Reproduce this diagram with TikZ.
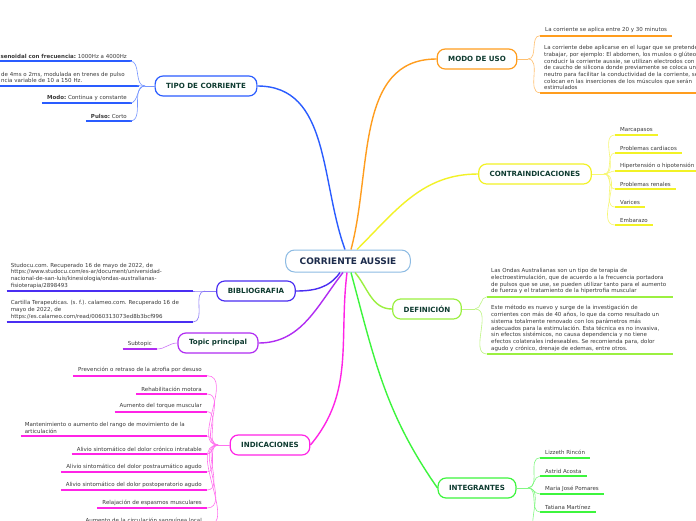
\documentclass[tikz,border=0pt]{standalone}
\usepackage{fontspec}
\setmainfont{DejaVu Sans}
\usepackage{xcolor}
\definecolor{RootLine}{HTML}{8DBBE3}
\definecolor{RootText}{HTML}{1C2B4B}
\definecolor{TopicText}{HTML}{0E3B30}
\definecolor{LeafText}{HTML}{3A3A3A}
\definecolor{TipoBlue}{HTML}{2A5CFF}
\definecolor{ModoOrange}{HTML}{FF9D1E}
\definecolor{ContraYellow}{HTML}{F2F226}
\definecolor{BiblioViolet}{HTML}{4A2EF2}
\definecolor{TopicPurple}{HTML}{B02CF2}
\definecolor{IndicPink}{HTML}{FF24E6}
\definecolor{DefinLime}{HTML}{9BF040}
\definecolor{IntegGreen}{HTML}{3DF53D}
\usetikzlibrary{positioning}
\frenchspacing
\tikzset{
  maproot/.style={
    draw=RootLine,
    fill=white,
    rounded corners=9pt,
    line width=1pt,
    minimum height=22pt,
    inner xsep=14pt,
    font=\fontsize{9}{10}\selectfont\bfseries,
    text=RootText
  },
  maptopic/.style={
    draw=#1,
    fill=white,
    rounded corners=8pt,
    line width=1.2pt,
    minimum height=20pt,
    inner xsep=11pt,
    font=\fontsize{7.1}{8}\selectfont\bfseries,
    text=TopicText
  },
  mapleaf/.style={
    font=\fontsize{5.5}{6.7}\selectfont,
    text=LeafText,
    inner xsep=5pt,
    inner ysep=2.5pt
  },
  mapnote/.style={
    mapleaf,
    inner xsep=4pt,
    text width=#1,
    align=left
  },
  mapbranch/.style={draw=#1, line width=1.4pt},
  maptwig/.style={draw=#1!65, line width=0.6pt},
  mapbar/.style={draw=#1, line width=1.6pt}
}

\begin{document}
\begin{tikzpicture}[x=1pt,y=-1pt]
  \clip (0,0) rectangle (696,520);
  \fill[white] (0,0) rectangle (696,520);

  % main topic and branches
  \node[maproot] (root) at (348,261) {CORRIENTE AUSSIE};
  \node[maptopic=TipoBlue] (tipo) at (206,86) {TIPO DE CORRIENTE};
  \node[maptopic=ModoOrange] (modo) at (477,59) {MODO DE USO};
  \node[maptopic=ContraYellow] (contra) at (535,174) {CONTRAINDICACIONES};
  \node[maptopic=BiblioViolet] (biblio) at (256,291) {BIBLIOGRAFIA};
  \node[maptopic=TopicPurple] (topic) at (218,343) {Topic principal};
  \node[maptopic=DefinLime] (defin) at (427,309) {DEFINICIÓN};
  \node[maptopic=IndicPink] (indic) at (270,445) {INDICACIONES};
  \node[maptopic=IntegGreen] (integ) at (477,488) {INTEGRANTES};

  \draw[mapbranch=TipoBlue] ([xshift=-3pt]root.north) to[out=110,in=0] (tipo.east);
  \draw[mapbranch=ModoOrange] ([xshift=3pt]root.north) to[out=75,in=180] (modo.west);
  \draw[mapbranch=ContraYellow] ([xshift=9pt]root.north) to[out=45,in=180] (contra.west);
  \draw[mapbranch=BiblioViolet] ([xshift=-8pt]root.south) to[out=-125,in=0] (biblio.east);
  \draw[mapbranch=TopicPurple] ([xshift=-5pt]root.south) to[out=-128,in=0] (topic.east);
  \draw[mapbranch=IndicPink] ([xshift=-1pt]root.south) to[out=-97,in=50] (indic.east);
  \draw[mapbranch=IntegGreen] ([xshift=3pt]root.south) to[out=-75,in=125] (integ.west);
  \draw[mapbranch=DefinLime] ([xshift=7pt]root.south) to[out=-50,in=180] (defin.west);

  % tipo de corriente
  \node[mapleaf, anchor=south east] (tipoA) at (132,61) {\textbf{senoidal con frecuencia:} 1000Hz a 4000Hz};
  \node[mapnote=134pt, anchor=south west] (tipoB) at (-3,85.7) {de 4ms o 2ms, modulada en trenes de pulso\\ncia variable de 10 a 150 Hz.};
  \node[mapleaf, anchor=south east] (tipoC) at (132,103) {\textbf{Modo:} Continua y constante};
  \node[mapleaf, anchor=south east] (tipoD) at (132,121) {\textbf{Pulso:} Corto};
  \coordinate (tipoJ) at (145,86);
  \draw[maptwig=TipoBlue] (tipo.west) -- (tipoJ);
  \foreach \leaf in {tipoA,tipoB,tipoC,tipoD}{
    \draw[mapbar=TipoBlue] (\leaf.south west) -- (\leaf.south east);
    \draw[maptwig=TipoBlue] (tipoJ) to[out=180,in=0] ([xshift=-2pt]\leaf.south east);
  }

  % modo de uso
  \node[mapleaf, anchor=south west] (modoA) at (540,35.7) {La corriente se aplica entre 20 y 30 minutos};
  \node[mapnote=178pt, anchor=south west] (modoB) at (540,92.7) {La corriente debe aplicarse en el lugar que se pretende\\trabajar, por ejemplo: El abdomen, los muslos o glúteos.\\conducir la corriente aussie, se utilizan electrodos con\\de caucho de silicona donde previamente se coloca un\\neutro para facilitar la conductividad de la corriente, se\\colocan en las inserciones de los músculos que serán\\estimulados};
  \coordinate (modoJ) at (528,59);
  \draw[maptwig=ModoOrange] (modo.east) -- (modoJ);
  \foreach \leaf in {modoA,modoB}{
    \draw[mapbar=ModoOrange] (\leaf.south west) -- (\leaf.south east);
    \draw[maptwig=ModoOrange] (modoJ) to[out=0,in=180] (\leaf.south west);
  }

  % contraindicaciones
  \node[mapleaf, anchor=south west] (contraA) at (615,135) {Marcapasos};
  \node[mapleaf, anchor=south west] (contraB) at (615,153) {Problemas cardiacos};
  \node[mapleaf, anchor=south west] (contraC) at (615,171) {Hipertensión o hipotensión};
  \node[mapleaf, anchor=south west] (contraD) at (615,189) {Problemas renales};
  \node[mapleaf, anchor=south west] (contraE) at (615,207) {Varices};
  \node[mapleaf, anchor=south west] (contraF) at (615,225) {Embarazo};
  \coordinate (contraJ) at (604,174);
  \draw[maptwig=ContraYellow] (contra.east) -- (contraJ);
  \foreach \leaf in {contraA,contraB,contraC,contraD,contraE,contraF}{
    \draw[mapbar=ContraYellow] (\leaf.south west) -- (\leaf.south east);
    \draw[maptwig=ContraYellow] (contraJ) to[out=0,in=180] (\leaf.south west);
  }

  % definicion
  \node[mapnote=178pt, anchor=south west] (definA) at (487,296.7) {Las Ondas Australianas son un tipo de terapia de\\electroestimulación, que de acuerdo a la frecuencia portadora\\de pulsos que se use, se pueden utilizar tanto para el aumento\\de fuerza y el tratamiento de la hipertrofia muscular};
  \node[mapnote=178pt, anchor=south west] (definB) at (487,354) {Este método es nuevo y surge de la investigación de\\corrientes con más de 40 años, lo que da como resultado un\\sistema totalmente renovado con los parámetros más\\adecuados para la estimulación. Esta técnica es no invasiva,\\sin efectos sistémicos, no causa dependencia y no tiene\\efectos colaterales indeseables. Se recomienda para, dolor\\agudo y crónico, drenaje de edemas, entre otros.};
  \coordinate (definJ) at (475,309);
  \draw[maptwig=DefinLime] (defin.east) -- (definJ);
  \foreach \leaf in {definA,definB}{
    \draw[mapbar=DefinLime] (\leaf.south west) -- (\leaf.south east);
    \draw[maptwig=DefinLime] (definJ) to[out=0,in=180] (\leaf.south west);
  }

  % integrantes
  \node[mapleaf, anchor=south west] (integA) at (540,457.7) {Lizzeth Rincón};
  \node[mapleaf, anchor=south west] (integB) at (540,476) {Astrid Acosta};
  \node[mapleaf, anchor=south west] (integC) at (540,494) {Maria José Pomares};
  \node[mapleaf, anchor=south west] (integD) at (540,512) {Tatiana Martínez};
  \coordinate (integJ) at (528,488);
  \coordinate (integE) at (540,534);
  \draw[maptwig=IntegGreen] (integ.east) -- (integJ);
  \foreach \leaf in {integA,integB,integC,integD}{
    \draw[mapbar=IntegGreen] (\leaf.south west) -- (\leaf.south east);
    \draw[maptwig=IntegGreen] (integJ) to[out=0,in=180] (\leaf.south west);
  }
  \draw[maptwig=IntegGreen] (integJ) to[out=0,in=180] (integE);

  % indicaciones
  \node[mapleaf, anchor=south east] (indicA) at (207,375.7) {Prevención o retraso de la atrofia por desuso};
  \node[mapleaf, anchor=south east] (indicB) at (207,394) {Rehabilitación motora};
  \node[mapleaf, anchor=south east] (indicC) at (207,411.7) {Aumento del torque muscular};
  \node[mapnote=178pt, anchor=south east] (indicD) at (207,436) {Mantenimiento o aumento del rango de movimiento de la\\articulación};
  \node[mapleaf, anchor=south east] (indicE) at (207,454) {Alivio sintomático del dolor crónico intratable};
  \node[mapleaf, anchor=south east] (indicF) at (207,472) {Alivio sintomático del dolor postraumático agudo};
  \node[mapleaf, anchor=south east] (indicG) at (207,490) {Alivio sintomático del dolor postoperatorio agudo};
  \node[mapleaf, anchor=south east] (indicH) at (207,508) {Relajación de espasmos musculares};
  \node[mapleaf, anchor=south east] (indicI) at (207,526) {Aumento de la circulación sanguínea local};
  \coordinate (indicJ) at (218,445);
  \draw[maptwig=IndicPink] (indic.west) -- (indicJ);
  \foreach \leaf in {indicA,indicB,indicC,indicD,indicE,indicF,indicG,indicH,indicI}{
    \draw[mapbar=IndicPink] (\leaf.south west) -- (\leaf.south east);
    \draw[maptwig=IndicPink] (indicJ) to[out=180,in=0] (\leaf.south east);
  }

  % bibliografia
  \node[mapnote=178pt, anchor=south east] (biblioA) at (193,291) {Studocu.com. Recuperado 16 de mayo de 2022, de\\https://www.studocu.com/es-ar/document/universidad-\\nacional-de-san-luis/kinesiologia/ondas-australianas-\\fisioterapia/2898493};
  \node[mapnote=178pt, anchor=south east] (biblioB) at (193,322) {Cartilla Terapeuticas. (s. f.). calameo.com. Recuperado 16 de\\mayo de 2022, de\\https://es.calameo.com/read/0060313073ed8b3bcf996};
  \coordinate (biblioJ) at (205,291);
  \draw[maptwig=BiblioViolet] (biblio.west) -- (biblioJ);
  \foreach \leaf in {biblioA,biblioB}{
    \draw[mapbar=BiblioViolet] (\leaf.south west) -- (\leaf.south east);
    \draw[maptwig=BiblioViolet] (biblioJ) to[out=180,in=0] (\leaf.south east);
  }

  % topic principal
  \node[mapleaf, anchor=south east] (topicA) at (157,349) {Subtopic};
  \draw[mapbar=TopicPurple] (topicA.south west) -- (topicA.south east);
  \draw[maptwig=TopicPurple] (topic.west) to[out=180,in=0] (topicA.south east);
\end{tikzpicture}
\end{document}
